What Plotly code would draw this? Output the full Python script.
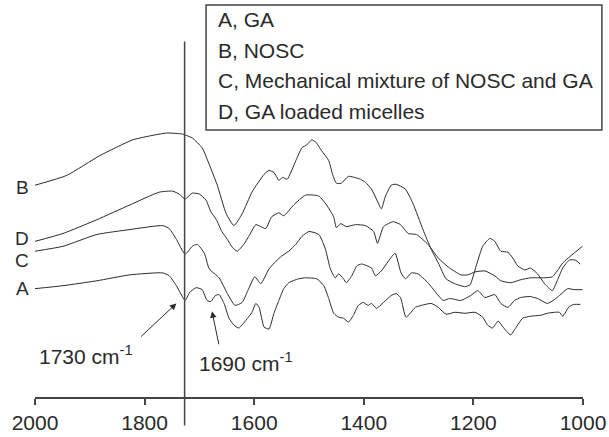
import plotly.graph_objects as go

# ---------------- data (wavenumber, cm-1 / offset signal, arb. units) ----------------
A_wn = [2000,1949,1887,1827,1767,1755,1742,1726,1718,1706,1695,1686,1679,1671,1664,1655,1646,1637,1628,1615,
        1604,1597,1591,1582,1573,1564,1555,1546,1537,1519,1506,1486,1473,1464,1455,1446,1437,1428,1419,1410,
        1401,1392,1386,1377,1364,1350,1341,1333,1323,1306,1295,1277,1264,1250,1234,1215,1197,1183,1174,1165,
        1155,1146,1132,1123,1110,1096,1077,1065,1052,1043,1037,1025,1016,1005]
A_val = [110,113,118,124,126,123,113,98,106,111,109,98,97,103,104,95,80,73,70,78,
         86,95,91,71,69,85,98,110,116,120,121,120,113,100,85,81,80,76,83,93,
         96,93,95,90,96,103,105,101,81,91,93,95,91,84,86,85,86,81,73,70,
         77,71,63,70,80,82,83,85,86,86,82,92,94,94]

B_wn = [2000,1942,1882,1822,1791,1760,1731,1726,1713,1695,1682,1668,1651,1637,1622,1604,1582,1573,1564,1555,
        1548,1540,1524,1513,1504,1495,1488,1477,1464,1457,1450,1441,1428,1406,1397,1386,1377,1368,1361,1350,
        1341,1324,1310,1292,1277,1264,1250,1234,1215,1206,1195,1183,1170,1161,1150,1137,1128,1119,1106,1096,
        1083,1070,1056,1047,1037,1025,1014,1005]
B_val = [215,225,245,261,265,268,267,266,263,253,236,216,186,174,186,208,226,230,228,220,
         223,221,240,253,256,261,259,250,240,226,217,217,224,221,218,211,201,191,203,215,
         216,211,196,170,150,136,120,115,112,114,133,153,161,158,148,147,141,133,129,131,
         125,115,108,118,131,139,139,135]

C_wn = [2000,1949,1887,1827,1767,1755,1742,1726,1713,1704,1691,1682,1664,1649,1635,1622,1610,1599,1588,1573,
        1560,1550,1537,1524,1513,1500,1482,1470,1461,1452,1446,1437,1432,1422,1413,1404,1386,1379,1368,1355,
        1343,1332,1324,1313,1301,1283,1264,1255,1243,1223,1205,1192,1179,1161,1150,1137,1125,1114,1097,1083,
        1065,1052,1043,1028,1016,1001]
C_val = [148,153,165,170,174,171,160,145,153,155,146,130,121,105,93,96,110,122,115,130,
         138,143,148,155,163,168,165,150,130,121,125,120,116,123,133,135,131,123,128,138,
         146,126,120,126,125,116,103,98,100,98,103,108,101,104,95,91,98,101,102,100,
         95,99,103,110,109,109]

D_wn = [2000,1949,1887,1827,1773,1749,1737,1726,1713,1700,1688,1679,1669,1659,1649,1640,1631,1619,1610,1597,
        1588,1579,1568,1555,1546,1528,1506,1482,1468,1455,1450,1442,1432,1415,1397,1382,1375,1364,1346,1333,
        1319,1304,1283,1264,1246,1223,1210,1197,1179,1161,1150,1132,1114,1096,1070,1056,1047,1037,1023,1001]
D_val = [158,166,180,195,208,209,206,201,207,206,200,188,180,168,160,152,148,155,163,175,
         173,171,183,187,184,195,205,204,195,183,172,176,173,175,174,168,156,173,178,175,
         166,165,155,141,132,124,124,127,128,123,118,116,119,121,121,122,128,136,143,153]

series_keys = ["A", "B", "C", "D"]
series_names = ["A, GA", "B, NOSC", "C, Mechanical mixture of NOSC and GA", "D, GA loaded micelles"]
curve_labels = {"A": 110, "B": 213, "C": 139, "D": 161}   # label heights at left edge
x_ticks = [2000, 1800, 1600, 1400, 1200, 1000]
marker_line_wn = 1727
peak_notes = [("1730 cm<sup>-1</sup>", 1907, 43, 1742, 95, 1809, 60),
              ("1690 cm<sup>-1</sup>", 1615, 36, 1677, 87, 1664, 52)]

data = {"A": (A_wn, A_val), "B": (B_wn, B_val), "C": (C_wn, C_val), "D": (D_wn, D_val)}

# ---------------- geometry ----------------
W, H = 609, 437
ML, MR, MT, MB = 35, 23, 3, 34
PW, PH = W - ML - MR, H - MT - MB
INK = "#2a2a2a"
FONT = "Liberation Sans, Arial, sans-serif"

def px_x(px):
    return (px - ML) / PW

def px_y(py):
    return (H - MB - py) / PH

fig = go.Figure()
for k, name in zip(series_keys, series_names):
    xs, ys = data[k]
    fig.add_trace(go.Scatter(x=xs, y=ys, mode="lines", name=name,
                             line=dict(color=INK, width=1, shape="spline", smoothing=0.5),
                             showlegend=False, hoverinfo="skip"))

annotations = []
for k in series_keys:
    annotations.append(dict(x=px_x(22), xref="paper", y=curve_labels[k], yref="y",
                            text=k, showarrow=False, xanchor="center", yanchor="middle",
                            font=dict(size=19, color=INK, family=FONT)))

# legend box text
for i, name in enumerate(series_names):
    annotations.append(dict(x=px_x(217), xref="paper", y=px_y(20 + 31 * i), yref="paper",
                            text=name, showarrow=False, xanchor="left", yanchor="middle",
                            font=dict(size=21, color=INK, family=FONT)))

for txt, tx, ty, hx, hy, axx, ayy in peak_notes:
    annotations.append(dict(x=tx, y=ty, xref="x", yref="y", text=txt, showarrow=False,
                            xanchor="center", yanchor="middle",
                            font=dict(size=21, color=INK, family=FONT)))
    annotations.append(dict(x=hx, y=hy, xref="x", yref="y", ax=axx, ay=ayy,
                            axref="x", ayref="y", text="", showarrow=True,
                            arrowhead=2, arrowsize=1.3, arrowwidth=1, arrowcolor=INK))

shapes = [
    dict(type="line", xref="paper", yref="paper",
         x0=(2000 - marker_line_wn) / 1000, x1=(2000 - marker_line_wn) / 1000,
         y0=px_y(432), y1=px_y(42), line=dict(color="#444444", width=1.5)),
    dict(type="rect", xref="paper", yref="paper",
         x0=px_x(207), x1=px_x(605), y0=px_y(132), y1=px_y(5),
         line=dict(color="#444444", width=1.5), fillcolor="rgba(0,0,0,0)"),
]

fig.update_layout(
    width=W, height=H,
    margin=dict(l=ML, r=MR, t=MT, b=MB, pad=0),
    paper_bgcolor="white", plot_bgcolor="white",
    annotations=annotations, shapes=shapes,
    xaxis=dict(range=[2000, 1000], tickvals=x_ticks, ticktext=[str(t) for t in x_ticks],
               showline=True, linecolor="#444444", linewidth=1.5,
               ticks="outside", ticklen=6, tickwidth=1.5, tickcolor="#444444",
               showgrid=False, zeroline=False, ticklabeloverflow="allow",
               tickfont=dict(size=21, color=INK, family=FONT)),
    yaxis=dict(range=[0, PH], visible=False, showgrid=False, zeroline=False),
)

fig.write_html("out.html")
